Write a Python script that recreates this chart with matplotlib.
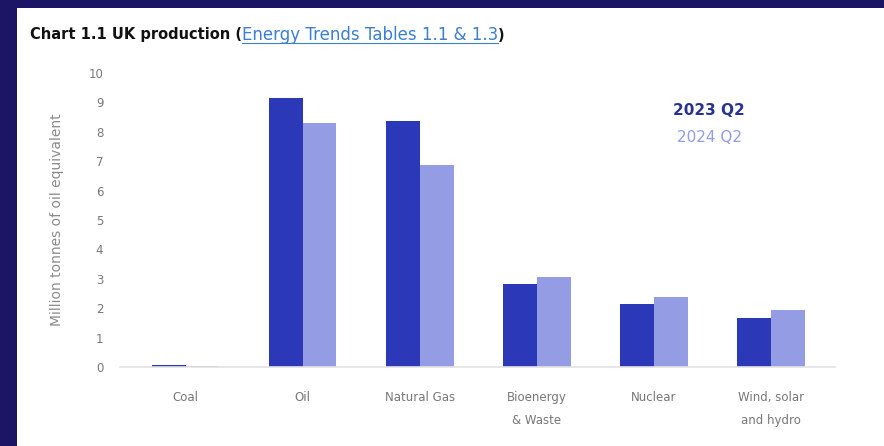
import matplotlib
matplotlib.use("Agg")
import matplotlib.pyplot as plt
import numpy as np
from matplotlib.patches import Rectangle

categories = ["Coal", "Oil", "Natural Gas", "Bioenergy\n& Waste", "Nuclear", "Wind, solar\nand hydro"]
q2_2023 = [0.06, 9.15, 8.37, 2.82, 2.14, 1.67]
q2_2024 = [0.03, 8.30, 6.87, 3.06, 2.38, 1.94]
series_names = ["2023 Q2", "2024 Q2"]
y_ticks = list(range(0, 11))

dark = "#2b38b8"
light = "#949ce4"
navy = "#1c1464"

fig = plt.figure(figsize=(8.84, 4.46), dpi=100)
fig.patch.set_facecolor(navy)
fig.patches.append(Rectangle((17 / 884, 0), 1, 1 - 8 / 446, transform=fig.transFigure,
                             facecolor="white", edgecolor="none", zorder=-5))

ax = fig.add_axes([120 / 884, 1 - 367 / 446, 715 / 884, 294 / 446])
ax.set_zorder(2)
ax.set_facecolor("none")
x = np.arange(len(categories))
w = 0.29
ax.bar(x - w / 2, q2_2023, width=w, color=dark)
ax.bar(x + w / 2, q2_2024, width=w, color=light)

ax.set_xlim(-0.56, 5.55)
ax.set_ylim(0, 10)
ax.set_yticks(y_ticks)
ax.set_yticklabels([str(t) for t in y_ticks])
ax.set_xticks(x)
ax.set_xticklabels(categories, linespacing=2.0, va="top")
ax.tick_params(axis="both", length=0, labelsize=8.5, colors="#777777")
ax.tick_params(axis="x", pad=17)
ax.tick_params(axis="y", pad=12)
for s in ["top", "right", "left"]:
    ax.spines[s].set_visible(False)
ax.spines["bottom"].set_color("#e3e3e3")
ax.spines["bottom"].set_linewidth(1.2)
ax.set_ylabel("Million tonnes of oil equivalent", fontsize=10, color="#8a8a8a")
ax.yaxis.set_label_coords(-0.078, 0.5)

ax.text(0.824, 0.871, series_names[0], transform=ax.transAxes, ha="center", va="center",
        fontsize=11, fontweight="bold", color="#27338f")
ax.text(0.824, 0.779, series_names[1], transform=ax.transAxes, ha="center", va="center",
        fontsize=11, color=light)

# title in two parts: bold black then linked blue text
fig.canvas.draw()
renderer = fig.canvas.get_renderer()
t1 = fig.text(30 / 884, 1 - 35 / 446, "Chart 1.1 UK production (", fontsize=10.5,
              fontweight="bold", color="#111111", va="center", zorder=3)
bb = t1.get_window_extent(renderer)
x2 = bb.x1 / fig.bbox.width
t2 = fig.text(x2, 1 - 35 / 446, "Energy Trends Tables 1.1 & 1.3", fontsize=12,
              color="#3b7fd0", va="center", zorder=3)
bb2 = t2.get_window_extent(renderer)
fig.add_artist(plt.Line2D([bb2.x0 / fig.bbox.width, bb2.x1 / fig.bbox.width],
                          [(bb2.y0 + 1) / fig.bbox.height] * 2, color="#3b7fd0", lw=0.8, zorder=3))
fig.text(bb2.x1 / fig.bbox.width, 1 - 35 / 446, ")", fontsize=10.5, fontweight="bold",
         color="#111111", va="center", zorder=3)

fig.savefig("out.png", dpi=100, facecolor=fig.get_facecolor())
